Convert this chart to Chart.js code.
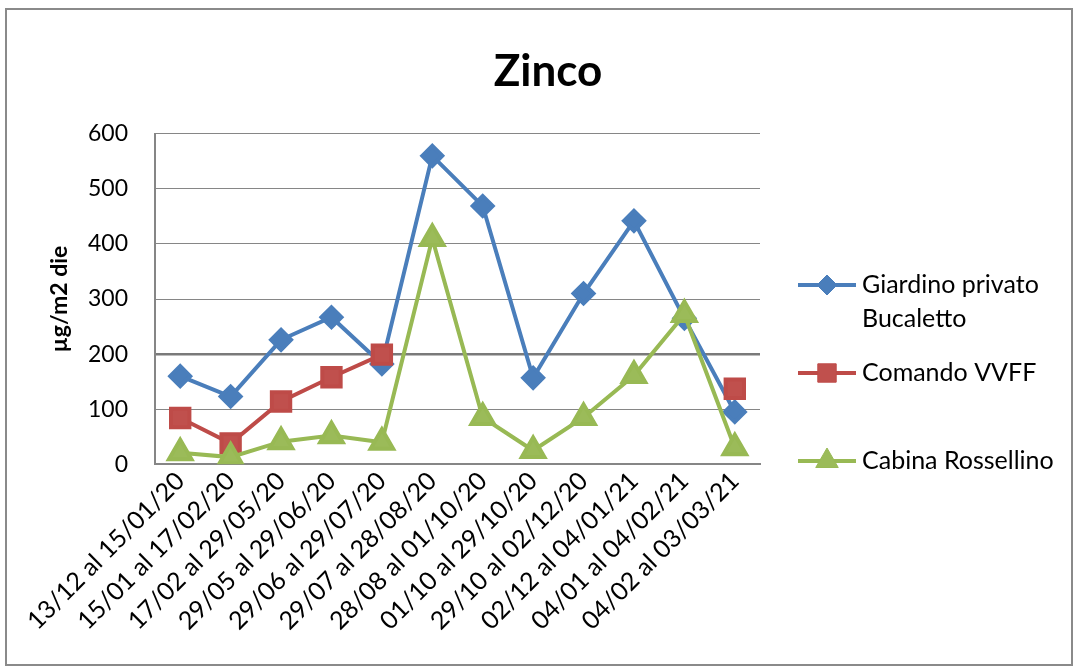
<!DOCTYPE html>
<html>
<head>
<meta charset="utf-8">
<script src="https://cdn.jsdelivr.net/npm/chart.js@4"></script>
<style>
  html, body { margin: 0; padding: 0; background: #fff; }
  #wrap { position: relative; width: 1078px; height: 672px; }
  #frame { position: absolute; left: 5px; top: 8px; width: 1064px; height: 654px; border: 2px solid #8a8a8a; pointer-events: none; }
</style>
</head>
<body>
<div id="wrap">
  <canvas id="chart" width="1078" height="672"></canvas>
  <div id="frame"></div>
</div>
<script>
const periodi = [
  "13/12 al 15/01/20", "15/01 al 17/02/20", "17/02 al 29/05/20", "29/05 al 29/06/20",
  "29/06 al 29/07/20", "29/07 al 28/08/20", "28/08 al 01/10/20", "01/10 al 29/10/20",
  "29/10 al 02/12/20", "02/12 al 04/01/21", "04/01 al 04/02/21", "04/02 al 03/03/21"
];
const bucaletto = [160, 123, 226, 267, 182, 560, 469, 157, 310, 442, 265, 95];
const vvff = [84, 38, 114, 158, 199, null, null, null, null, null, null, 137];
const rossellino = [21, 13, 41, 52, 40, 410, 85, 25, 85, 161, 272, 30];
const yTicks = [0, 100, 200, 300, 400, 500, 600];

const FONT = "Lato, 'Open Sans', sans-serif";

// legenda disegnata a mano: linea + marker come in Excel
const legendaExcel = {
  id: "legendaExcel",
  afterDraw(chart) {
    const ctx = chart.ctx;
    const x0 = chart.chartArea.right + 38;
    const ys = [285, 373, 461];
    ctx.save();
    ctx.font = "25px " + FONT;
    ctx.textBaseline = "middle";
    chart.data.datasets.forEach((ds, i) => {
      const y = ys[i];
      ctx.strokeStyle = ds.borderColor;
      ctx.lineWidth = ds.borderWidth;
      ctx.beginPath();
      ctx.moveTo(x0, y);
      ctx.lineTo(x0 + 58, y);
      ctx.stroke();
      ctx.fillStyle = ds.pointBackgroundColor;
      ctx.strokeStyle = ds.pointBorderColor;
      ctx.lineWidth = 1;
      Chart.helpers.drawPoint(ctx, { pointStyle: ds.pointStyle, radius: ds.pointRadius, borderWidth: 1 }, x0 + 29, y);
      // a capo se il testo è troppo lungo
      const words = ds.label.split(" ");
      const lines = [];
      let cur = "";
      words.forEach(w => {
        const t = cur ? cur + " " + w : w;
        if (ctx.measureText(t).width > 200 && cur) { lines.push(cur); cur = w; } else cur = t;
      });
      lines.push(cur);
      ctx.fillStyle = "#000";
      lines.forEach((l, k) => ctx.fillText(l, x0 + 64, y + k * 34));
    });
    ctx.restore();
  }
};

new Chart(document.getElementById("chart"), {
  type: "line",
  data: {
    labels: periodi,
    datasets: [
      {
        label: "Giardino privato Bucaletto",
        data: bucaletto,
        borderColor: "#4a7ebb",
        backgroundColor: "#4a7ebb",
        pointBackgroundColor: "#4a7ebb",
        pointBorderColor: "#4a7ebb",
        borderWidth: 4,
        pointStyle: "rectRot",
        pointRadius: 10,
        order: 3
      },
      {
        label: "Comando VVFF",
        data: vvff,
        borderColor: "#be4b48",
        backgroundColor: "#c0504d",
        pointBackgroundColor: "#c0504d",
        pointBorderColor: "#be4b48",
        borderWidth: 4,
        pointStyle: "rect",
        pointRadius: 13,
        spanGaps: false,
        order: 2
      },
      {
        label: "Cabina Rossellino",
        data: rossellino,
        borderColor: "#98b954",
        backgroundColor: "#9bbb59",
        pointBackgroundColor: "#9bbb59",
        pointBorderColor: "#98b954",
        borderWidth: 4,
        pointStyle: "triangle",
        pointRadius: 13,
        order: 1
      }
    ]
  },
  options: {
    responsive: false,
    animation: false,
    layout: { padding: { top: 0, right: 0, bottom: 34, left: 18 } },
    plugins: {
      legend: { display: false },
      tooltip: { enabled: false },
      title: {
        display: true,
        text: "Zinco",
        color: "#000",
        font: { family: FONT, size: 44, weight: "bold" },
        padding: { top: 45, bottom: 36 }
      }
    },
    scales: {
      x: {
        offset: true,
        grid: { display: false, drawTicks: false },
        border: { display: true, color: "#868686", width: 2 },
        ticks: {
          color: "#000",
          font: { family: FONT, size: 25 },
          minRotation: 45,
          maxRotation: 45,
          autoSkip: false,
          padding: 2
        }
      },
      y: {
        min: 0,
        max: 600,
        afterBuildTicks(axis) { axis.ticks = yTicks.map(v => ({ value: v })); },
        afterFit(axis) { axis.width = 137; },
        grid: {
          color: ctx => ctx.tick && ctx.tick.value === 200 ? "#7a7a7a" : "#868686",
          lineWidth: ctx => ctx.tick && ctx.tick.value === 200 ? 2.5 : 1,
          drawTicks: false
        },
        border: { display: true, color: "#868686", width: 2 },
        ticks: {
          color: "#000",
          font: { family: FONT, size: 23 },
          padding: 27
        },
        title: {
          display: true,
          text: "µg/m2 die",
          color: "#000",
          font: { family: FONT, size: 23, weight: "bold" },
          padding: { top: 28, bottom: 0 }
        }
      },
      // spazio riservato alla legenda a destra
      spazioLegenda: {
        type: "linear",
        position: "right",
        grid: { display: false, drawTicks: false },
        border: { display: false },
        ticks: { display: false },
        afterFit(axis) { axis.width = 318; }
      }
    }
  },
  plugins: [legendaExcel]
});
</script>
</body>
</html>
